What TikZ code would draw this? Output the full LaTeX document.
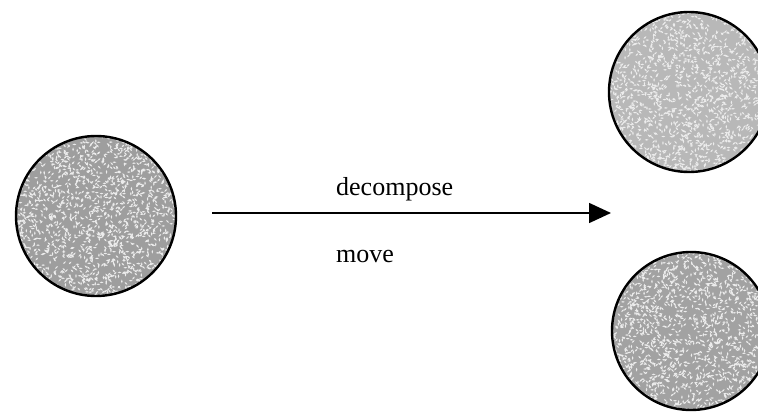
\documentclass[tikz,border=0pt]{standalone}
\usepackage{fontspec}
\setmainfont{Liberation Serif}
\usetikzlibrary{arrows.meta}
\definecolor{ballA}{RGB}{158,158,158}
\definecolor{ballB}{RGB}{184,184,184}
\definecolor{ballC}{RGB}{162,162,162}
\definecolor{speck}{RGB}{236,236,236}
\tikzset{
  ball/.style={circle, draw=black, line width=2.4pt, minimum size=160pt, inner sep=0pt},
  lbl/.style={anchor=base west, inner sep=0pt, font=\fontsize{26pt}{30pt}\selectfont},
  conn/.style={line width=1.6pt, -{Triangle[length=22pt,width=20pt]}}
}
\newcommand{\speckset}[3]{%
  \fill[speck] \foreach \k in {1,...,#3} {
    ({#1-82+164*rnd},{#2-82+164*rnd}) ellipse (1.9pt and 0.75pt)
  };%
}
\newcommand{\speckles}[4]{%
  \begin{scope}
    \clip (#1,#2) circle (#3);
    \foreach \a in {0,45,90,135} {
      \begin{scope}[rotate around={\a:(#1,#2)}]
        \speckset{#1}{#2}{#4}
      \end{scope}
    }
  \end{scope}%
}
\begin{document}
\begin{tikzpicture}[x=1pt,y=-1pt]
\useasboundingbox (0,0) rectangle (758,412);
\fill[white] (0,0) rectangle (758,412);
\clip (0,0) rectangle (758,412);
\pgfmathsetseed{4321}
\fill[ballA] (96,216) circle (80pt);
\speckles{96}{216}{80pt}{480}
\fill[ballB] (689,92) circle (80pt);
\speckles{689}{92}{80pt}{460}
\fill[ballC] (691,331) circle (79pt);
\speckles{691}{331}{79pt}{480}
\node[ball] (src) at (96,216) {};
\node[ball] (top) at (689,92) {};
\node[ball, minimum size=158pt] (bot) at (691,331) {};
\coordinate (as) at (212,213);
\coordinate (ae) at (611,213);
\draw[conn] (as) -- (ae);
\node[lbl] (dec) at (336,195) {decompose};
\node[lbl] (mov) at (336,262) {move};
\end{tikzpicture}
\end{document}
